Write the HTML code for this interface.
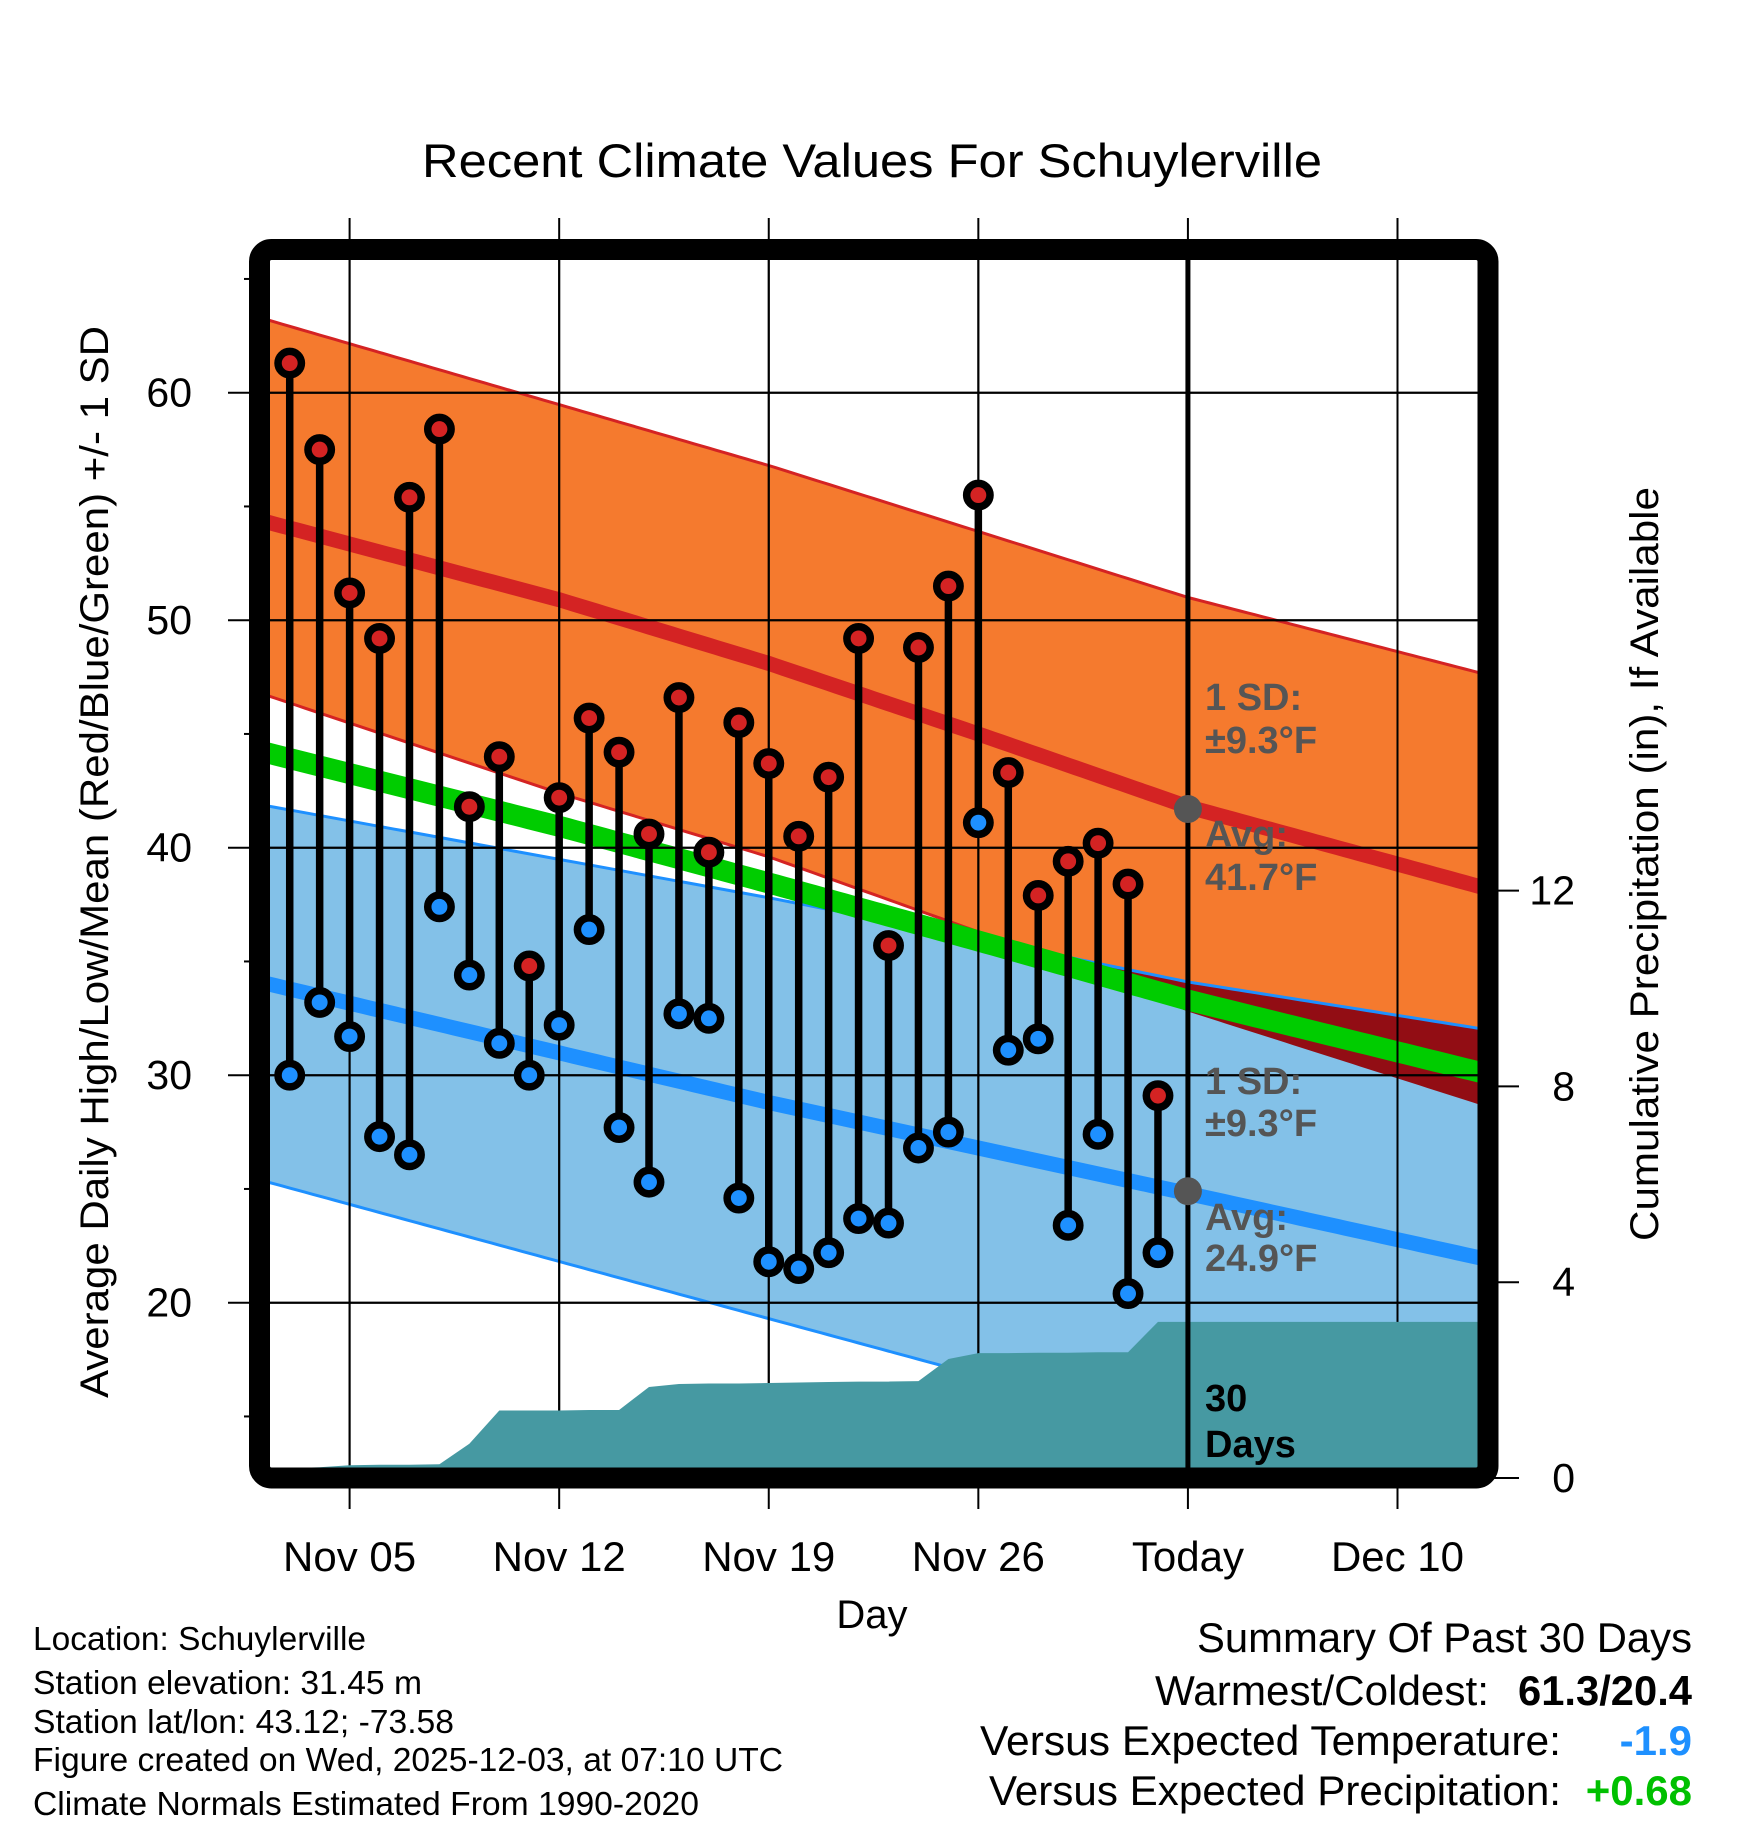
<!DOCTYPE html>
<html><head><meta charset="utf-8"><style>
html,body{margin:0;padding:0;background:#fff;}
svg{display:block;font-family:"Liberation Sans",Arial,sans-serif;}
</style></head><body>
<svg id="chart" width="1748" height="1828" viewBox="0 0 1748 1828" xmlns="http://www.w3.org/2000/svg">
<defs><clipPath id="plotclip"><rect x="270" y="260" width="1208" height="1208"/></clipPath></defs>
<g id="bands" clip-path="url(#plotclip)"></g>
<g id="axes"></g>
<g id="marks" clip-path="url(#plotclip)"></g>
<rect x="259.5" y="249.5" width="1228.5" height="1228.5" rx="12" fill="none" stroke="#000" stroke-width="21"/>
<text x="872" y="177" text-anchor="middle" font-size="47" textLength="900" lengthAdjust="spacingAndGlyphs">Recent Climate Values For Schuylerville</text>
<text transform="translate(108,862) rotate(-90)" text-anchor="middle" font-size="40" textLength="1072" lengthAdjust="spacingAndGlyphs">Average Daily High/Low/Mean (Red/Blue/Green) +/- 1 SD</text>
<text transform="translate(1658,864) rotate(-90)" text-anchor="middle" font-size="40" textLength="754" lengthAdjust="spacingAndGlyphs">Cumulative Precipitation (in), If Available</text>
<text x="872" y="1628" text-anchor="middle" font-size="40">Day</text>
<g font-size="33">
<text x="33" y="1650" textLength="333" lengthAdjust="spacingAndGlyphs">Location: Schuylerville</text>
<text x="33" y="1694" textLength="389" lengthAdjust="spacingAndGlyphs">Station elevation: 31.45 m</text>
<text x="33" y="1733" textLength="421" lengthAdjust="spacingAndGlyphs">Station lat/lon: 43.12; -73.58</text>
<text x="33" y="1771" textLength="750" lengthAdjust="spacingAndGlyphs">Figure created on Wed, 2025-12-03, at 07:10 UTC</text>
<text x="33" y="1815" textLength="666" lengthAdjust="spacingAndGlyphs">Climate Normals Estimated From 1990-2020</text>
</g>
<g font-size="42">
<text x="1692" y="1652" text-anchor="end" textLength="495" lengthAdjust="spacingAndGlyphs">Summary Of Past 30 Days</text>
<text x="1489" y="1705" text-anchor="end" textLength="334" lengthAdjust="spacingAndGlyphs">Warmest/Coldest:</text>
<text x="1692" y="1705" text-anchor="end" font-weight="bold" textLength="174" lengthAdjust="spacingAndGlyphs">61.3/20.4</text>
<text x="1561" y="1755" text-anchor="end" textLength="581" lengthAdjust="spacingAndGlyphs">Versus Expected Temperature:</text>
<text x="1692" y="1755" text-anchor="end" font-weight="bold" fill="#1e90ff">-1.9</text>
<text x="1561" y="1805" text-anchor="end" textLength="572" lengthAdjust="spacingAndGlyphs">Versus Expected Precipitation:</text>
<text x="1692" y="1805" text-anchor="end" font-weight="bold" fill="#00c000">+0.68</text>
</g>
</svg>
<script>
// ---- data ----
const days = [3,4,5,6,7,8,9,10,11,12,13,14,15,16,17,18,19,20,21,22,23,24,25,26,27,28,29,30,31,32];
const highs = [61.3,57.5,51.2,49.2,55.4,58.4,41.8,44.0,34.8,42.2,45.7,44.2,40.6,46.6,39.8,45.5,43.7,40.5,43.1,49.2,35.7,48.8,51.5,55.5,43.3,37.9,39.4,40.2,38.4,29.1];
const lows = [30.0,33.2,31.7,27.3,26.5,37.4,34.4,31.4,30.0,32.2,36.4,27.7,25.3,32.7,32.5,24.6,21.8,21.5,22.2,23.7,23.5,26.8,27.5,41.1,31.1,31.6,23.4,27.4,20.4,22.2];
const precipDays = [2,3,4,5,6,7,8,9,10,11,12,13,14,15,16,17,18,19,20,21,22,23,24,25,26,27,28,29,30,31,32,43];
const precipCum = [0.19,0.2,0.22,0.26,0.27,0.27,0.28,0.7,1.38,1.38,1.38,1.39,1.39,1.86,1.92,1.93,1.93,1.94,1.95,1.96,1.97,1.97,1.98,2.43,2.55,2.55,2.56,2.56,2.57,2.57,3.19,3.19];
const normHiDays = [2,12,19,26,33,43];
const normHi = [54.4,50.9,48.1,45.0,41.8,38.2];
const normHiUpperDays = [2,19,33,43];
const normHiUpper = [63.3,56.8,51.0,47.6];
const normHiLowerDays = [2,12,19,26,33,43];
const normHiLower = [46.8,42.4,39.6,36.3,32.8,28.6];
const normLoDays = [2,19,33,43];
const normLo = [34.1,28.8,24.8,21.9];
const normLoUpperDays = [2,19,26,33,43];
const normLoUpper = [41.9,37.8,36.0,34.1,32.0];
const normLoLowerDays = [2,19,26,43];
const normLoLower = [25.4,19.3,16.8,10.7];
const yTicks = [20,30,40,50,60];
const yMinor = [15,25,35,45,55,65];
const y2Ticks = [0,4,8,12];
const xTickDays = [5,12,19,26,33,40];
const xTickLabels = ["Nov 05","Nov 12","Nov 19","Nov 26","Today","Dec 10"];
const todayDay = 33;
const todayHi = 41.7, todayLo = 24.9;

// ---- scales ----
const X = d => 349.6 + (d-5)*29.94;
const Y = v => 392.7 - (v-60)*22.75;
const Y2 = p => 1478 - p*48.95;
const NS = "http://www.w3.org/2000/svg";
function mk(tag, attrs, parent){const e=document.createElementNS(NS,tag);for(const k in attrs)e.setAttribute(k,attrs[k]);parent.appendChild(e);return e;}
function interp(ds, vs, d){for(let i=0;i<ds.length-1;i++){if(d<=ds[i+1]){const t=(d-ds[i])/(ds[i+1]-ds[i]);return vs[i]+t*(vs[i+1]-vs[i]);}}return vs[vs.length-1];}
const hi=d=>interp(normHiDays,normHi,d), hiU=d=>interp(normHiUpperDays,normHiUpper,d), hiL=d=>interp(normHiLowerDays,normHiLower,d);
const lo=d=>interp(normLoDays,normLo,d), loU=d=>interp(normLoUpperDays,normLoUpper,d), loL=d=>interp(normLoLowerDays,normLoLower,d);
const samples=[];for(let d=2;d<=43.001;d+=0.25)samples.push(d);
function bandPath(up, dn){let s='M'+samples.map(d=>X(d)+','+Y(up(d))).join(' L');s+=' L'+samples.slice().reverse().map(d=>X(d)+','+Y(dn(d))).join(' L')+' Z';return s;}
function linePath(f){return 'M'+samples.map(d=>X(d)+','+Y(f(d))).join(' L');}

const bands=document.getElementById('bands'), axes=document.getElementById('axes'), marks=document.getElementById('marks');
let e;
e=mk('path',{d:bandPath(hiU,hiL),fill:'#f57a2e'},bands);


e=mk('path',{d:bandPath(loU,loL),fill:'#83c1e8'},bands);


e=mk('path',{d:bandPath(d=>Math.min(hiU(d),loU(d)),d=>Math.min(Math.max(hiL(d),loL(d)),Math.min(hiU(d),loU(d)))),fill:'#920d14'},bands);


e=mk('path',{d:linePath(hiU),fill:'none',stroke:'#d42323','stroke-width':3},bands);


e=mk('path',{d:'M'+samples.filter(d=>hiL(d)>=loU(d)).map(d=>X(d)+','+Y(hiL(d))).join(' L'),fill:'none',stroke:'#d42323','stroke-width':3},bands);


e=mk('path',{d:linePath(loU),fill:'none',stroke:'#1e90ff','stroke-width':3},bands);


e=mk('path',{d:linePath(loL),fill:'none',stroke:'#1e90ff','stroke-width':3},bands);


e=mk('path',{d:linePath(hi),fill:'none',stroke:'#d42323','stroke-width':15},bands);


e=mk('path',{d:linePath(lo),fill:'none',stroke:'#1e90ff','stroke-width':15},bands);


e=mk('path',{d:linePath(d=>(hi(d)+lo(d))/2),fill:'none',stroke:'#00cc00','stroke-width':21},bands);



// grid
yTicks.forEach(v=>{
  e=mk('line',{x1:228,x2:1478,y1:Y(v),y2:Y(v),stroke:'#000','stroke-width':2},axes);
  
  
  e=mk('text',{x:192,y:Y(v)+14,'text-anchor':'end','font-size':41},axes);
  e.textContent=v;
  
  
});
yMinor.forEach(v=>{
  e=mk('line',{x1:244,x2:260,y1:Y(v),y2:Y(v),stroke:'#000','stroke-width':2},axes);
  
  
});
xTickDays.forEach((d,i)=>{
  e=mk('line',{x1:X(d),x2:X(d),y1:218,y2:1509,stroke:'#000','stroke-width':2},axes);
  
  
  e=mk('text',{x:X(d),y:1571,'text-anchor':'middle','font-size':42},axes);
  e.textContent=xTickLabels[i];
  
  
});
y2Ticks.forEach(p=>{
  e=mk('line',{x1:1488,x2:1519,y1:Y2(p),y2:Y2(p),stroke:'#000','stroke-width':2},axes);
  
  
  e=mk('text',{x:1575,y:Y2(p)+14,'text-anchor':'end','font-size':41},axes);
  e.textContent=p;
  
  
});
// precip area
let pp='M'+X(precipDays[0])+','+Y2(0);
precipDays.forEach((d,i)=>{pp+=' L'+X(d)+','+Y2(precipCum[i]);});
pp+=' L'+X(precipDays[precipDays.length-1])+','+Y2(0)+' Z';
e=mk('path',{d:pp,fill:'#4699a2'},marks);


e=mk('line',{x1:X(todayDay),x2:X(todayDay),y1:250,y2:1478,stroke:'#000','stroke-width':5},marks);


days.forEach((d,i)=>{
  e=mk('line',{x1:X(d),x2:X(d),y1:Y(highs[i]),y2:Y(lows[i]),stroke:'#000','stroke-width':7.5},marks);
  
  
});
days.forEach((d,i)=>{
  e=mk('circle',{cx:X(d),cy:Y(highs[i]),r:11.7,fill:'#d42323',stroke:'#000','stroke-width':7.5},marks);
  
  
  e=mk('circle',{cx:X(d),cy:Y(lows[i]),r:11.7,fill:'#1e90ff',stroke:'#000','stroke-width':7.5},marks);
  
  
});
e=mk('circle',{cx:X(todayDay),cy:Y(todayHi),r:14,fill:'#555'},marks);


e=mk('circle',{cx:X(todayDay),cy:Y(todayLo),r:14,fill:'#555'},marks);


const ann=[["1 SD:",710,'#555'],["±9.3°F",753,'#555'],["Avg:",847,'#555'],["41.7°F",890,'#555'],["1 SD:",1094,'#555'],["±9.3°F",1136,'#555'],["Avg:",1230,'#555'],["24.9°F",1271,'#555'],["30",1411,'#000'],["Days",1457,'#000']];
ann.forEach(a=>{
  e=mk('text',{x:1205,y:a[1],'font-size':38,'font-weight':'bold',fill:a[2]},marks);
  e.textContent=a[0];
  
  
});
// grid lines between bands and precip
Array.from(axes.querySelectorAll('line')).forEach(l=>{bands.appendChild(l.cloneNode(true));});
</script>
</body></html>
